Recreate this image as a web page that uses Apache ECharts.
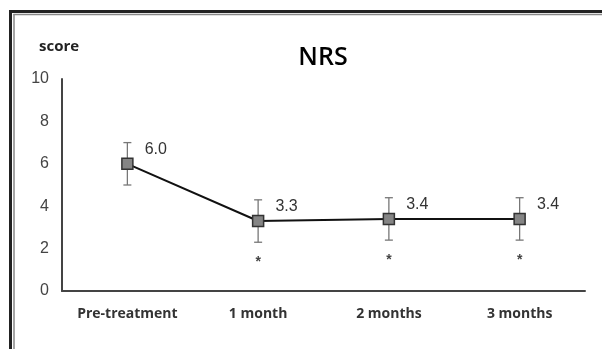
<!DOCTYPE html>
<html>
<head>
<meta charset="utf-8">
<script src="https://cdn.jsdelivr.net/npm/echarts@6/dist/echarts.min.js"></script>
<style>
html,body{margin:0;padding:0;background:#fff;}
#chart{width:602px;height:349px;}
</style>
</head>
<body>
<div id="chart"></div>
<script>
var categories = ['Pre-treatment', '1 month', '2 months', '3 months'];
var means = [6.0, 3.3, 3.4, 3.4];
var sds = [1.0, 1.0, 1.0, 1.0];
var significance = ['', '*', '*', '*'];

var chart = echarts.init(document.getElementById('chart'), null, {renderer: 'canvas'});

var errData = means.map(function (m, i) { return [i, m - sds[i], m + sds[i]]; });
var sigData = means.map(function (m, i) { return [i, m - sds[i], significance[i]]; });

var option = {
  backgroundColor: '#ffffff',
  animation: false,
  title: {
    text: 'NRS',
    left: 318, top: 40,
    textAlign: 'center',
    textStyle: {fontFamily: 'Open Sans', fontWeight: 600, fontSize: 25, color: '#000'}
  },
  graphic: [
    {type: 'line', shape: {x1: 9, y1: 11.5, x2: 602, y2: 11.5}, style: {stroke: '#222', lineWidth: 3}},
    {type: 'line', shape: {x1: 10.5, y1: 10, x2: 10.5, y2: 349}, style: {stroke: '#222', lineWidth: 3}},
    {type: 'line', shape: {x1: 13.5, y1: 14.5, x2: 602, y2: 14.5}, style: {stroke: '#888', lineWidth: 1.5}},
    {type: 'line', shape: {x1: 14, y1: 14, x2: 14, y2: 349}, style: {stroke: '#888', lineWidth: 1.5}},
    {type: 'text', left: 39, top: 39, style: {text: 'score', font: 'bold 15px "Open Sans"', fill: '#222'}}
  ],
  grid: {left: 62, right: 17, top: 79, bottom: 58, containLabel: false},
  xAxis: {
    type: 'category',
    data: categories,
    boundaryGap: true,
    axisLine: {lineStyle: {color: '#444', width: 2}},
    axisTick: {show: false},
    axisLabel: {margin: 16, fontFamily: 'Open Sans', fontWeight: 'bold', fontSize: 14, color: '#333'}
  },
  yAxis: {
    type: 'value',
    min: 0, max: 10, interval: 2,
    axisLine: {show: true, lineStyle: {color: '#444', width: 2}},
    axisTick: {show: false},
    splitLine: {show: false},
    axisLabel: {margin: 13, fontFamily: 'Liberation Sans', fontSize: 16, color: '#444'}
  },
  series: [
    {
      type: 'custom',
      z: 1,
      data: errData,
      renderItem: function (params, api) {
        var x = api.value(0);
        var lo = api.coord([x, api.value(1)]);
        var hi = api.coord([x, api.value(2)]);
        var w = 4;
        var st = {stroke: '#777', lineWidth: 1.3};
        return {
          type: 'group',
          children: [
            {type: 'line', shape: {x1: hi[0], y1: hi[1], x2: lo[0], y2: lo[1]}, style: st},
            {type: 'line', shape: {x1: hi[0] - w, y1: hi[1], x2: hi[0] + w, y2: hi[1]}, style: st},
            {type: 'line', shape: {x1: lo[0] - w, y1: lo[1], x2: lo[0] + w, y2: lo[1]}, style: st}
          ]
        };
      }
    },
    {
      type: 'custom',
      z: 1,
      data: sigData,
      renderItem: function (params, api) {
        var x = api.value(0);
        var lo = api.coord([x, api.value(1)]);
        return {
          type: 'text',
          x: lo[0], y: lo[1] + 20,
          style: {text: sigData[params.dataIndex][2], font: 'bold 14px "Liberation Sans"', fill: '#444', textAlign: 'center', textVerticalAlign: 'middle'}
        };
      }
    },
    {
      type: 'line',
      z: 3,
      data: means,
      symbol: 'rect',
      symbolSize: 11,
      itemStyle: {color: '#858585', borderColor: '#333', borderWidth: 1.5},
      lineStyle: {color: '#111', width: 2},
      label: {
        show: true,
        position: 'right',
        distance: 5,
        offset: [6, -14],
        formatter: function (p) { return p.value.toFixed(1); },
        fontFamily: 'Liberation Sans', fontSize: 16, color: '#333'
      }
    }
  ]
};
chart.setOption(option);
</script>
</body>
</html>
